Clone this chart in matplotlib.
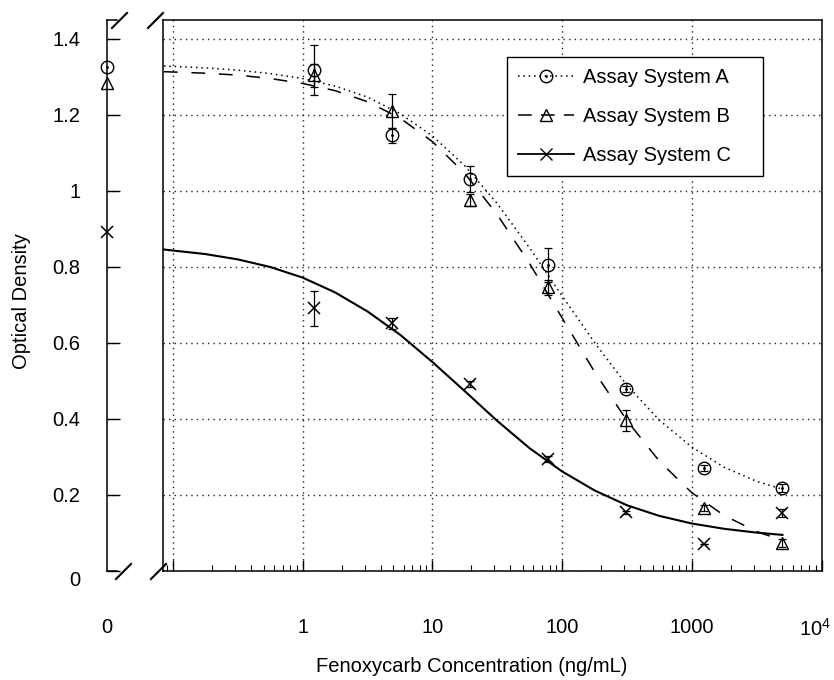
import numpy as np
import matplotlib
matplotlib.use("Agg")
import matplotlib.pyplot as plt
import matplotlib.transforms as mtransforms
from matplotlib.lines import Line2D
from matplotlib.path import Path

plt.rcParams['font.family'] = ['Liberation Sans', 'DejaVu Sans']
plt.rcParams['mathtext.fontset'] = 'custom'
plt.rcParams['mathtext.rm'] = 'Liberation Sans'

# measured points (ng/mL), plus the zero-dose point drawn on the broken axis
conc = [1.22, 4.88, 19.5, 78.1, 312.5, 1250, 5000]
zero_a, zero_b, zero_c = 1.327, 1.284, 0.892
od_a = [1.318, 1.147, 1.032, 0.805, 0.479, 0.270, 0.218]
od_b = [1.305, 1.210, 0.976, 0.747, 0.397, 0.167, 0.074]
od_c = [0.691, 0.652, 0.492, 0.295, 0.154, 0.071, 0.152]
err_a = [0.065, 0.020, 0.034, 0.045, 0.008, 0.008, 0.010]
err_b = [0.030, 0.045, 0.015, 0.020, 0.028, 0.008, 0.010]
err_c = [0.046, 0.015, 0.008, 0.008, 0.004, 0.000, 0.010]

# fitted curves
curve_x = [0.0851, 0.178, 0.316, 0.562, 1, 1.78, 3.16, 5.62, 10, 17.8, 31.6,
           56.2, 100, 178, 316, 562, 1000, 1778, 3162, 5000]
curve_a = [1.329, 1.324, 1.318, 1.309, 1.296, 1.276, 1.247, 1.204, 1.145, 1.066,
           0.967, 0.850, 0.724, 0.601, 0.489, 0.397, 0.326, 0.273, 0.236, 0.215]
curve_b = [1.314, 1.310, 1.305, 1.296, 1.283, 1.264, 1.235, 1.192, 1.130, 1.046,
           0.938, 0.809, 0.666, 0.524, 0.396, 0.289, 0.206, 0.146, 0.104, 0.080]
curve_c = [0.846, 0.834, 0.820, 0.800, 0.772, 0.733, 0.683, 0.622, 0.550, 0.473,
           0.395, 0.323, 0.262, 0.212, 0.173, 0.145, 0.125, 0.111, 0.101, 0.095]

W, H = 834, 680
fig = plt.figure(figsize=(W / 100, H / 100), dpi=100)
ax0 = fig.add_axes([107 / W, 109 / H, 10 / W, 551 / H])
ax = fig.add_axes([163 / W, 109 / H, 658.5 / W, 551 / H])

odot = Path.make_compound_path(Path.unit_circle(), Path.circle((0, 0), 0.12))
fs = 14.5
grid_kw = dict(color='#222222', linestyle=(0, (1, 3)), linewidth=1.0)
eb_kw = dict(fmt='none', ecolor='black', capsize=3, elinewidth=0.9, capthick=0.9)

# main (log) panel
ax.plot(curve_x, curve_a, color='black', lw=1.1, linestyle=(0, (1, 2.5)))
ax.plot(curve_x, curve_b, color='black', lw=1.1, linestyle=(0, (9, 9)))
ax.plot(curve_x, curve_c, color='black', lw=1.5)
ax.errorbar(conc, od_a, yerr=err_a, **eb_kw)
ax.errorbar(conc, od_b, yerr=err_b, **eb_kw)
ax.errorbar(conc, od_c, yerr=err_c, **eb_kw)
ax.plot(conc, od_a, ls='none', marker=odot, ms=9, mfc='none', mec='black', mew=1.0)
ax.plot(conc, od_b, ls='none', marker='^', ms=9, mfc='none', mec='black', mew=1.0)
ax.plot(conc, od_c, ls='none', marker='x', ms=8, mec='black', mew=1.1)

ax.set_xscale('log')
ax.set_xlim(0.0837, 1e4)
ax.set_ylim(0, 1.45)
ax.set_xticks([0.1, 1, 10, 100, 1000, 1e4])
ax.set_xticklabels(['', '1', '10', '100', '1000', '$10^4$'], fontsize=fs)
ax.set_yticks(np.arange(0, 1.41, 0.2))
ax.tick_params(axis='y', left=False, labelleft=False)
ax.tick_params(axis='x', which='major', direction='in', length=8, pad=34, width=1)
ax.tick_params(axis='x', which='minor', direction='in', length=4, width=0.8)
ax.grid(True, which='major', **grid_kw)
for s in ax.spines.values():
    s.set_linewidth(1.1)
last = ax.get_xticklabels()[-1]
last.set_transform(last.get_transform() + mtransforms.ScaledTranslation(-6 / 100, 0, fig.dpi_scale_trans))

# zero-dose panel
ax0.plot([0], [zero_a], ls='none', marker=odot, ms=9, mfc='none', mec='black', mew=1.0, clip_on=False)
ax0.plot([0], [zero_b], ls='none', marker='^', ms=9, mfc='none', mec='black', mew=1.0, clip_on=False)
ax0.plot([0], [zero_c], ls='none', marker='x', ms=8, mec='black', mew=1.1, clip_on=False)
ax0.set_xlim(0, 1)
ax0.set_ylim(0, 1.45)
ax0.set_xticks([0])
ax0.set_xticklabels(['0'], fontsize=fs)
ax0.set_yticks(np.arange(0, 1.41, 0.2))
ax0.set_yticklabels(['0', '0.2', '0.4', '0.6', '0.8', '1', '1.2', '1.4'], fontsize=fs)
ax0.tick_params(axis='x', length=0, pad=34)
ax0.tick_params(axis='y', direction='in', length=9, pad=19, width=1)
ax0.yaxis.grid(True, **grid_kw)
ax0.spines['right'].set_visible(False)
for s in ax0.spines.values():
    s.set_linewidth(1.1)
first = ax0.get_yticklabels()[0]
first.set_transform(first.get_transform() + mtransforms.ScaledTranslation(0, -7 / 100, fig.dpi_scale_trans))

# axis break marks
for x1, y1, x2, y2 in [(112, 28, 127, 13), (148, 28, 163, 13),
                       (116, 579, 131, 564), (151, 579, 166, 564)]:
    fig.add_artist(Line2D([x1 / W, x2 / W], [1 - y1 / H, 1 - y2 / H],
                          transform=fig.transFigure, color='black', lw=1.5))

handles = [
    Line2D([], [], color='black', lw=1.1, linestyle=(0, (1, 2.5)), marker=odot, ms=9, mfc='none', mec='black'),
    Line2D([], [], color='black', lw=1.1, linestyle=(0, (9, 6)), marker='^', ms=9, mfc='none', mec='black'),
    Line2D([], [], color='black', lw=1.3, marker='x', ms=8, mec='black'),
]
leg = ax.legend(handles, ['Assay System A', 'Assay System B', 'Assay System C'],
                loc='upper left', bbox_to_anchor=(0.5224, 0.717, 0.3888, 0.2158),
                mode='expand', borderaxespad=0,
                fontsize=fs, fancybox=False, framealpha=1, edgecolor='black',
                handlelength=2.8, handletextpad=0.4, labelspacing=1.0,
                borderpad=0.55, numpoints=1)
leg.get_frame().set_linewidth(1.0)

fig.text(22 / W, 1 - 301 / H, 'Optical Density', rotation=90, ha='center', va='center', fontsize=fs)
fig.text(472 / W, 1 - 667 / H, 'Fenoxycarb Concentration (ng/mL)', ha='center', va='center', fontsize=fs)

fig.savefig('out.png', dpi=100)
